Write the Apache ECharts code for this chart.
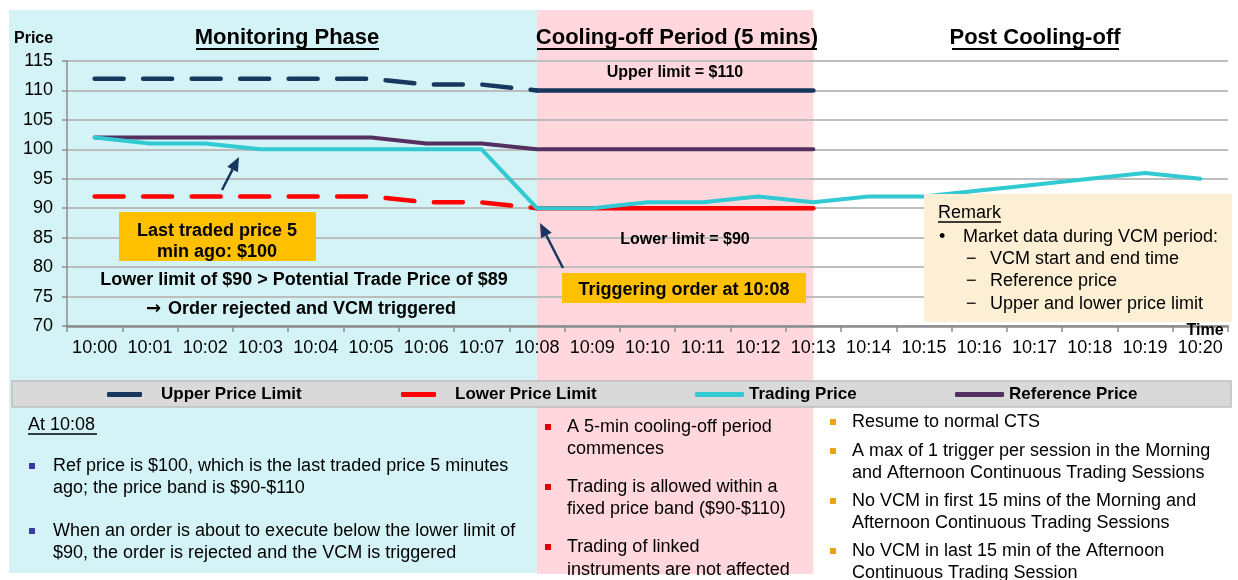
<!DOCTYPE html>
<html>
<head>
<meta charset="utf-8">
<title>VCM example</title>
<script src="https://cdn.jsdelivr.net/npm/echarts@6/dist/echarts.min.js"></script>
<style>
  html, body { margin: 0; padding: 0; background: #fff; }
  #chart { width: 1238px; height: 580px; }
</style>
</head>
<body>
<div id="chart"></div>
<script>
var times = ['10:00', '10:01', '10:02', '10:03', '10:04', '10:05', '10:06', '10:07', '10:08', '10:09', '10:10',
  '10:11', '10:12', '10:13', '10:14', '10:15', '10:16', '10:17', '10:18', '10:19', '10:20'];

// limits before the trigger (dashed) and during the cooling-off (solid)
var upperMonitoring = [112, 112, 112, 112, 112, 112, 111, 111, 110, null, null, null, null, null, null, null, null, null, null, null, null];
var upperCooling = [null, null, null, null, null, null, null, null, 110, 110, 110, 110, 110, 110, null, null, null, null, null, null, null];
var lowerMonitoring = [92, 92, 92, 92, 92, 92, 91, 91, 90, null, null, null, null, null, null, null, null, null, null, null, null];
var lowerCooling = [null, null, null, null, null, null, null, null, 90, 90, 90, 90, 90, 90, null, null, null, null, null, null, null];
var referencePrice = [102, 102, 102, 102, 102, 102, 101, 101, 100, 100, 100, 100, 100, 100, null, null, null, null, null, null, null];
var tradingPrice = [102, 101, 101, 100, 100, 100, 100, 100, 90, 90, 91, 91, 92, 91, 92, 92, 93, 94, 95, 96, 95];

var priceMin = 70;
var priceMax = 115;
var priceStep = 5;
var coolingStart = '10:08';
var coolingEnd = '10:13';

var FONT = '"Liberation Sans", Arial, sans-serif';
var NAVY = '#17375E';
var RED = '#FF0000';
var CYAN = '#31C9D2';
var PURPLE = '#53305F';

var chart = echarts.init(document.getElementById('chart'));

function legendAt(name, left, width) {
  return {
    data: [name],
    left: left,
    top: 386,
    padding: 0,
    icon: 'roundRect',
    itemWidth: width,
    itemHeight: 5,
    itemStyle: { borderWidth: 0 },
    selectedMode: false,
    textStyle: { fontFamily: FONT, fontSize: 17, fontWeight: 'bold', color: '#000', padding: [0, 0, 0, width < 40 ? 14 : 0] }
  };
}

function lineSeries(name, data, color, width, dash) {
  return {
    name: name,
    type: 'line',
    data: data,
    color: color,
    showSymbol: false,
    symbol: 'none',
    silent: true,
    lineStyle: { color: color, width: width, type: dash || 'solid', cap: 'round', join: 'round' }
  };
}

var option = {
  animation: false,
  backgroundColor: '#fff',
  grid: { left: 67, right: 10, top: 61, bottom: 254, containLabel: false, outerBoundsMode: 'none' },
  legend: [
    legendAt('Upper Price Limit', 107, 35),
    legendAt('Lower Price Limit', 401, 35),
    legendAt('Trading Price', 695, 49),
    legendAt('Reference Price', 955, 49)
  ],
  xAxis: {
    type: 'category',
    data: times,
    axisLine: { lineStyle: { color: '#8C8C8C', width: 2.5 } },
    axisTick: { show: true, length: 6, lineStyle: { color: '#8C8C8C', width: 1.5 } },
    axisLabel: { color: '#000', fontFamily: FONT, fontSize: 18, margin: 13, interval: 0 },
    splitLine: { show: false }
  },
  yAxis: {
    type: 'value',
    min: priceMin,
    max: priceMax,
    interval: priceStep,
    axisLine: { show: true, lineStyle: { color: '#8C8C8C', width: 1.5 } },
    axisTick: { show: true, length: 5, lineStyle: { color: '#8C8C8C', width: 1.5 } },
    axisLabel: { color: '#000', fontFamily: FONT, fontSize: 18, margin: 14 },
    splitLine: { lineStyle: { color: '#BDBDBD', width: 2 } }
  },
  series: [
    lineSeries('Upper Price Limit', upperMonitoring, NAVY, 4.5, [29, 19.5]),
    lineSeries('Upper Price Limit', upperCooling, NAVY, 4.5),
    lineSeries('Lower Price Limit', lowerMonitoring, RED, 4.5, [29, 19.5]),
    lineSeries('Lower Price Limit', lowerCooling, RED, 4.5),
    lineSeries('Reference Price', referencePrice, PURPLE, 4),
    lineSeries('Trading Price', tradingPrice, CYAN, 4)
  ]
};

chart.setOption(option);

function txt(x, y, s, size, bold, align, family) {
  return {
    type: 'text', z: 51,
    style: {
      x: x, y: y, text: s,
      font: (bold ? 'bold ' : '') + size + 'px ' + (family || FONT),
      fill: '#000',
      textAlign: align || 'left',
      textVerticalAlign: 'middle'
    }
  };
}

function box(x, y, w, h, fill, z) {
  return { type: 'rect', z: z, shape: { x: x, y: y, width: w, height: h }, style: { fill: fill } };
}

function underline(x1, x2, y, w) {
  return { type: 'line', z: 51, shape: { x1: x1, y1: y, x2: x2, y2: y }, style: { stroke: '#000', lineWidth: w || 1.3 } };
}

function arrow(x1, y1, x2, y2) {
  var a = Math.atan2(y2 - y1, x2 - x1);
  var len = 14, half = 6;
  var bx = x2 - len * Math.cos(a), by = y2 - len * Math.sin(a);
  var nx = -Math.sin(a) * half, ny = Math.cos(a) * half;
  return [
    { type: 'line', z: 51, shape: { x1: x1, y1: y1, x2: bx, y2: by }, style: { stroke: NAVY, lineWidth: 2.5 } },
    { type: 'polygon', z: 51, shape: { points: [[x2, y2], [bx + nx, by + ny], [bx - nx, by - ny]] }, style: { fill: NAVY } }
  ];
}

var xStart = chart.convertToPixel({ xAxisIndex: 0 }, coolingStart);
var xEnd = chart.convertToPixel({ xAxisIndex: 0 }, coolingEnd);

var g = [];
// phase backgrounds
g.push(box(9, 10, xStart - 9, 563, '#D3F3F6', -10));
g.push(box(xStart, 10, xEnd - xStart, 564, '#FFD7DD', -10));
// legend bar
g.push({ type: 'rect', z: 3, shape: { x: 12, y: 381, width: 1219, height: 26 }, style: { fill: '#D9D9D9', stroke: '#BFBFBF', lineWidth: 1.5 } });

// headings
g.push(txt(14, 39, 'Price', 16, true));
g.push(txt(287, 38, 'Monitoring Phase', 22, true, 'center'));
g.push(underline(196, 379, 49, 2));
g.push(txt(677, 38, 'Cooling-off Period (5 mins)', 22, true, 'center'));
g.push(underline(537, 817, 49, 2));
g.push(txt(1035, 38, 'Post Cooling-off', 22, true, 'center'));
g.push(underline(952, 1119, 49, 2));
g.push(txt(1205, 331, 'Time', 16, true, 'center'));

// annotations inside the plot
g.push(txt(675, 73, 'Upper limit = $110', 16, true, 'center'));
g.push(txt(685, 240, 'Lower limit = $90', 16, true, 'center'));
g.push(box(119, 212, 197, 49, '#FFC000', 50));
g.push(txt(217, 231, 'Last traded price 5', 18, true, 'center'));
g.push(txt(217, 252, 'min ago: $100', 18, true, 'center'));
g.push(txt(304, 280, 'Lower limit of $90 > Potential Trade Price of $89', 18, true, 'center'));
g.push(txt(146, 309, '\u2192', 18, true, 'left', '"DejaVu Sans", sans-serif'));
g.push(txt(168, 309, 'Order rejected and VCM triggered', 18, true));
g.push(box(562, 273, 244, 30, '#FFC000', 50));
g.push(txt(684, 290, 'Triggering order at 10:08', 18, true, 'center'));
g = g.concat(arrow(222, 190, 239, 157));
g = g.concat(arrow(563, 268, 540, 223));

// remark box
g.push(box(924, 194, 308, 128, '#FDEFD3', 50));
g.push(txt(938, 213, 'Remark', 18));
g.push(underline(938, 1001, 222));
g.push(txt(939, 237, '\u2022', 18));
g.push(txt(963, 237, 'Market data during VCM period:', 18));
['VCM start and end time', 'Reference price', 'Upper and lower price limit'].forEach(function (s, i) {
  var y = 259 + i * 22.5;
  g.push(txt(966, y, '\u2212', 18));
  g.push(txt(990, y, s, 18));
});

// bottom notes
function bullet(x, y, color) {
  return box(x, y - 3, 6, 6, color, 51);
}
g.push(txt(28, 425, 'At 10:08', 18));
g.push(underline(28, 97, 434));
g.push(bullet(29, 466, '#3A3AA6'));
g.push(txt(53, 466, 'Ref price is $100, which is the last traded price 5 minutes', 18));
g.push(txt(53, 488, 'ago; the price band is $90-$110', 18));
g.push(bullet(29, 531, '#3A3AA6'));
g.push(txt(53, 531, 'When an order is about to execute below the lower limit of', 18));
g.push(txt(53, 553, '$90, the order is rejected and the VCM is triggered', 18));

g.push(bullet(545, 427, '#E00000'));
g.push(txt(567, 427, 'A 5-min cooling-off period', 18));
g.push(txt(567, 449, 'commences', 18));
g.push(bullet(545, 487, '#E00000'));
g.push(txt(567, 487, 'Trading is allowed within a', 18));
g.push(txt(567, 509, 'fixed price band ($90-$110)', 18));
g.push(bullet(545, 547, '#E00000'));
g.push(txt(567, 547, 'Trading of linked', 18));
g.push(txt(567, 570, 'instruments are not affected', 18));

g.push(bullet(830, 422, '#E8A317'));
g.push(txt(852, 422, 'Resume to normal CTS', 18));
g.push(bullet(830, 451, '#E8A317'));
g.push(txt(852, 451, 'A max of 1 trigger per session in the Morning', 18));
g.push(txt(852, 473, 'and Afternoon Continuous Trading Sessions', 18));
g.push(bullet(830, 501, '#E8A317'));
g.push(txt(852, 501, 'No VCM in first 15 mins of the Morning and', 18));
g.push(txt(852, 523, 'Afternoon Continuous Trading Sessions', 18));
g.push(bullet(830, 551, '#E8A317'));
g.push(txt(852, 551, 'No VCM in last 15 min of the Afternoon', 18));
g.push(txt(852, 573, 'Continuous Trading Session', 18));

chart.setOption({ graphic: g });
</script>
</body>
</html>
